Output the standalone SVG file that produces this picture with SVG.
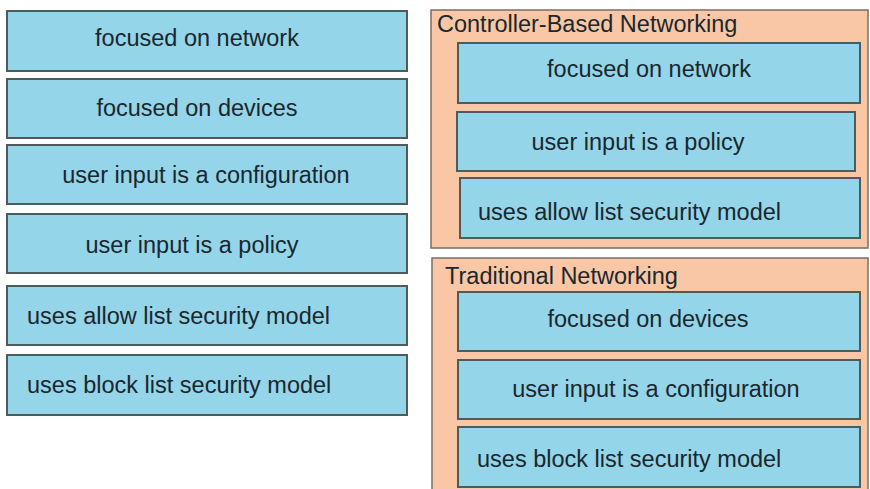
<svg xmlns="http://www.w3.org/2000/svg" width="870" height="489" viewBox="0 0 870 489">
<style>
.bg{fill:#ffffff}
.item rect{fill:#94d5ea;stroke:#4f5a5a;stroke-width:2}
.cont rect.frame{fill:#f9c7a6;stroke:#7a6e64;stroke-width:1.5}
text{font-family:"Liberation Sans",Arial,sans-serif;font-size:23.5px;fill:#1a272c}
.c{text-anchor:middle}
</style>
<rect class="bg" x="0" y="0" width="870" height="489"/>
<g id="left-items">
<g id="l1" class="item"><rect x="7" y="11" width="400" height="60"/><text class="c" x="197" y="46">focused on network</text></g>
<g id="l2" class="item"><rect x="7" y="79" width="400" height="59"/><text class="c" x="197" y="116">focused on devices</text></g>
<g id="l3" class="item"><rect x="7" y="145" width="400" height="59"/><text class="c" x="206" y="183">user input is a configuration</text></g>
<g id="l4" class="item"><rect x="7" y="214" width="400" height="59"/><text class="c" x="192" y="253">user input is a policy</text></g>
<g id="l5" class="item"><rect x="7" y="286" width="400" height="59"/><text x="27" y="324">uses allow list security model</text></g>
<g id="l6" class="item"><rect x="7" y="355" width="400" height="60"/><text x="27" y="393">uses block list security model</text></g>
</g>
<g id="controller" class="cont">
<rect class="frame" x="431" y="10" width="437" height="238"/>
<text x="437" y="32">Controller-Based Networking</text>
<g id="c1" class="item"><rect x="458" y="43" width="402" height="60"/><text class="c" x="649" y="77">focused on network</text></g>
<g id="c2" class="item"><rect x="457" y="112" width="398" height="59"/><text class="c" x="638" y="150">user input is a policy</text></g>
<g id="c3" class="item"><rect x="460" y="178" width="400" height="60"/><text x="478" y="220">uses allow list security model</text></g>
</g>
<g id="traditional" class="cont">
<rect class="frame" x="432" y="258" width="436" height="240"/>
<text x="445" y="284">Traditional Networking</text>
<g id="t1" class="item"><rect x="458" y="292" width="402" height="59"/><text class="c" x="648" y="327">focused on devices</text></g>
<g id="t2" class="item"><rect x="458" y="360" width="402" height="59"/><text class="c" x="656" y="397">user input is a configuration</text></g>
<g id="t3" class="item"><rect x="458" y="427" width="402" height="60"/><text x="477" y="467">uses block list security model</text></g>
</g>
<g id="connectors"></g>
</svg>
